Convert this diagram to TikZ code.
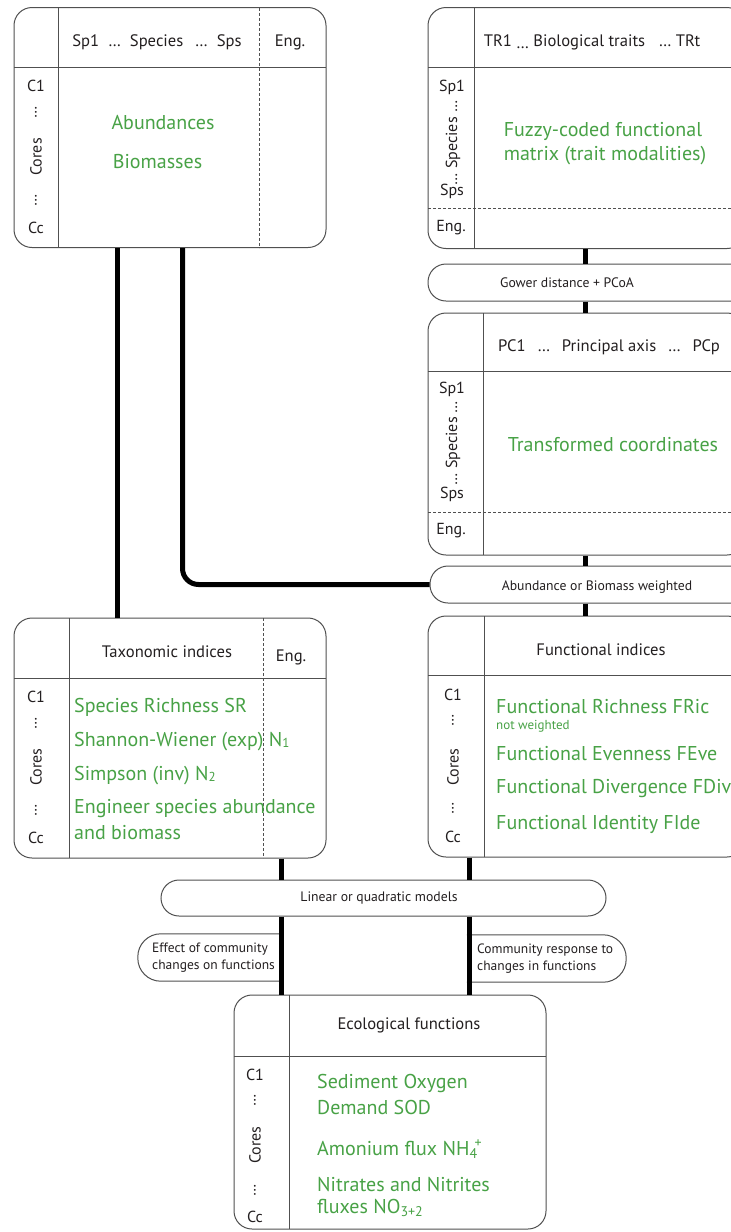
\documentclass[tikz,border=0pt]{standalone}
\usepackage{fontspec}
\setmainfont{PT Sans}
\definecolor{grn}{RGB}{72,162,70}
\definecolor{ln}{RGB}{80,80,80}
\definecolor{txt}{RGB}{35,31,32}
\newcommand{\infr}[1]{\raisebox{-0.5pt}{\fontsize{13}{13}\selectfont #1}}
\tikzset{
  boxn/.style={draw=ln,line width=1pt,rounded corners=18pt,fill=white,inner sep=0pt},
  pill/.style={draw=ln,line width=1pt,rounded corners=18pt,fill=white,inner sep=0pt},
  sepline/.style={draw=ln,line width=1pt},
  dashsep/.style={draw=ln,line width=0.8pt,dash pattern=on 3pt off 2pt},
  conn/.style={draw=black,line width=5pt},
  hdr/.style={text=txt,font=\fontsize{16.6}{19}\selectfont,inner sep=0pt},
  lab/.style={text=txt,font=\fontsize{16}{19}\selectfont,inner sep=0pt},
  vlab/.style={lab,rotate=90},
  gtxt/.style={text=grn,font=\fontsize{20}{24}\selectfont,inner sep=0pt},
  gl/.style={gtxt,anchor=west},
  ptxt/.style={text=txt,font=\fontsize{13.7}{16}\selectfont,inner sep=0pt},
  etxt/.style={text=txt,font=\fontsize{13.5}{16}\selectfont,inner sep=0pt,anchor=west}
}
\begin{document}
\begin{tikzpicture}[x=1pt,y=-1pt]
\useasboundingbox (0,0) rectangle (731,1232);
\clip (0,0) rectangle (731,1232);
\fill[white] (0,0) rectangle (731,1232);

% ---------- Box A: abundances ----------
\node[boxn,minimum width=312,minimum height=240] (A) at (170,127.5) {};
\draw[sepline] (14,67) -- (326,67);
\draw[sepline] (58,7.5) -- (58,247.5);
\draw[dashsep] (259,7.5) -- (259,247.5);
\node[hdr] (Ah) at (157,42) {Sp1 \;…\; Species \;\,…\; Sps};
\node[hdr] (Ae) at (290,42) {Eng.};
\node[lab] (Ac1) at (36,86) {C1};
\node[vlab] (Ad1) at (36,112) {…};
\node[vlab] (Acores) at (36,157) {Cores};
\node[vlab] (Ad2) at (36,200) {…};
\node[lab] (Acc) at (36,228) {Cc};
\node[gtxt] (Ag1) at (163,123) {Abundances};
\node[gtxt] (Ag2) at (157.5,162) {Biomasses};

% ---------- Box B: traits ----------
\node[boxn,minimum width=317,minimum height=241] (B) at (586.5,128) {};
\draw[sepline] (428,67) -- (745,67);
\draw[sepline] (474.5,7.5) -- (474.5,248.5);
\draw[dashsep] (428,208) -- (745,208);
\node[hdr] (Bh) at (592,42) {TR1 \raisebox{-2pt}{…} Biological traits \;\;… TRt};
\node[lab] (Bs1) at (452,87) {Sp1};
\node[vlab] (Bsp) at (453,143) {… Species …};
\node[lab] (Bss) at (452,191) {Sps};
\node[lab] (Be) at (451,228) {Eng.};
\node[gtxt] (Bg1) at (603,131) {Fuzzy-coded functional};
\node[gtxt] (Bg2) at (605,156) {matrix (trait modalities)};

% ---------- Gower pill ----------
\node[pill,minimum width=332,minimum height=37] (gower) at (594,282.5) {};
\node[ptxt] (gowert) at (567,283) {Gower distance + PCoA};

% ---------- Box C: PCoA ----------
\node[boxn,minimum width=317,minimum height=242] (C) at (586.5,434) {};
\draw[sepline] (428,371.5) -- (745,371.5);
\draw[sepline] (483,313) -- (483,555);
\draw[dashsep] (428,512) -- (745,512);
\node[hdr] (Ch) at (609,347) {PC1 \;\,…\;\, Principal axis \;\,…\;\, PCp};
\node[lab] (Cs1) at (452,389) {Sp1};
\node[vlab] (Csp) at (453,443) {… Species …};
\node[lab] (Css) at (452,494) {Sps};
\node[lab] (Ce) at (451,531) {Eng.};
\node[gtxt] (Cg) at (613,445) {Transformed coordinates};

% ---------- Abundance pill ----------
\node[pill,minimum width=330,minimum height=37] (abpill) at (595,584.5) {};
\node[ptxt] (abpillt) at (597,587) {Abundance or Biomass weighted};

% ---------- Box D: taxonomic ----------
\node[boxn,minimum width=312,minimum height=240] (D) at (170,738) {};
\draw[sepline] (14,678) -- (326,678);
\draw[sepline] (69,618) -- (69,858);
\draw[dashsep] (263,618) -- (263,858);
\node[hdr] (Dh) at (167,652) {Taxonomic indices};
\node[hdr] (De) at (291,657) {Eng.};
\node[lab] (Dc1) at (36,697) {C1};
\node[vlab] (Dd1) at (36,723) {…};
\node[vlab] (Dcores) at (36,767) {Cores};
\node[vlab] (Dd2) at (36,810) {…};
\node[lab] (Dcc) at (36,838) {Cc};
\node[gl] (Dg1) at (74,707) {Species Richness SR};
\node[gl] (Dg2) at (74,742) {Shannon-Wiener (exp) N\infr{1}};
\node[gl] (Dg3) at (74,776) {Simpson (inv) N\infr{2}};
\node[gl] (Dg4) at (74,809) {Engineer species abundance};
\node[gl] (Dg5) at (74,833) {and biomass};

% ---------- Box E: functional ----------
\node[boxn,minimum width=317,minimum height=241] (E) at (586.5,736.5) {};
\draw[sepline] (428,675) -- (745,675);
\draw[sepline] (484,616) -- (484,857);
\node[hdr] (Eh) at (601,650) {Functional indices};
\node[lab] (Ec1) at (453,695) {C1};
\node[vlab] (Ed1) at (453,720) {…};
\node[vlab] (Ecores) at (453,767) {Cores};
\node[vlab] (Ed2) at (453,808) {…};
\node[lab] (Ecc) at (453,837) {Cc};
\node[gl] (Eg1) at (496,707) {Functional Richness FRic};
\node[text=grn,font=\fontsize{13}{15}\selectfont,inner sep=0pt,anchor=west] (Enw) at (496,726) {not weighted};
\node[gl] (Eg2) at (496,754) {Functional Evenness FEve};
\node[gl] (Eg3) at (496,789) {Functional Divergence FDiv};
\node[gl] (Eg4) at (496,824) {Functional Identity FIde};

% ---------- Linear pill ----------
\node[pill,minimum width=445,minimum height=36] (linear) at (383.5,898) {};
\node[ptxt] (lineart) at (379,898) {Linear or quadratic models};

% ---------- side pills ----------
\node[inner sep=0pt,minimum width=145,minimum height=47] (effect) at (210.5,957.5) {};
\draw[ln,line width=1pt,rounded corners=23pt,fill=white] (effect.north east) -- (effect.north west) -- (effect.south west) -- (effect.south east);
\node[etxt] (effect1) at (152,949) {Effect of community};
\node[etxt] (effect2) at (152,966) {changes on functions};

\node[inner sep=0pt,minimum width=159,minimum height=47] (resp) at (546.5,958.5) {};
\draw[ln,line width=1pt,rounded corners=23pt,fill=white] (resp.north west) -- (resp.north east) -- (resp.south east) -- (resp.south west);
\node[etxt] (resp1) at (477,950) {Community response to};
\node[etxt] (resp2) at (477,967) {changes in functions};

% ---------- Box F: ecological functions ----------
\node[boxn,minimum width=312,minimum height=234] (F) at (390,1112) {};
\draw[sepline] (234,1056) -- (546,1056);
\draw[sepline] (289,995) -- (289,1229);
\node[hdr] (Fh) at (409,1025) {Ecological functions};
\node[lab] (Fc1) at (255,1075) {C1};
\node[vlab] (Fd1) at (255,1100) {…};
\node[vlab] (Fcores) at (255,1145) {Cores};
\node[vlab] (Fd2) at (255,1190) {…};
\node[lab] (Fcc) at (255,1217) {Cc};
\node[gl] (Fg1) at (317,1083) {Sediment Oxygen};
\node[gl] (Fg2) at (317,1107) {Demand SOD};
\node[gl] (Fg3) at (317,1149) {Amonium flux NH\textsubscript{4}\kern-3pt\textsuperscript{+}};
\node[gl] (Fg4) at (317,1184) {Nitrates and Nitrites};
\node[gl] (Fg5) at (317,1208) {fluxes NO\textsubscript{3+2}};

% ---------- connectors ----------
\coordinate (xa) at (117,0);
\coordinate (xb) at (182.5,0);
\coordinate (xr) at (585,0);
\coordinate (xl) at (281,0);
\coordinate (xm) at (469,0);
\draw[conn] (A.south -| xa) -- (D.north -| xa);
\draw[conn,rounded corners=16pt] (A.south -| xb) |- (abpill.west);
\draw[conn] (B.south -| xr) -- (gower.north -| xr);
\draw[conn] (gower.south -| xr) -- (C.north -| xr);
\draw[conn] (C.south -| xr) -- (abpill.north -| xr);
\draw[conn] (abpill.south -| xr) -- (E.north -| xr);
\draw[conn] (D.south -| xl) -- (linear.north -| xl);
\draw[conn] (linear.south -| xl) -- (F.north -| xl);
\draw[conn] (E.south -| xm) -- (linear.north -| xm);
\draw[conn] (linear.south -| xm) -- (F.north -| xm);
\end{tikzpicture}
\end{document}
